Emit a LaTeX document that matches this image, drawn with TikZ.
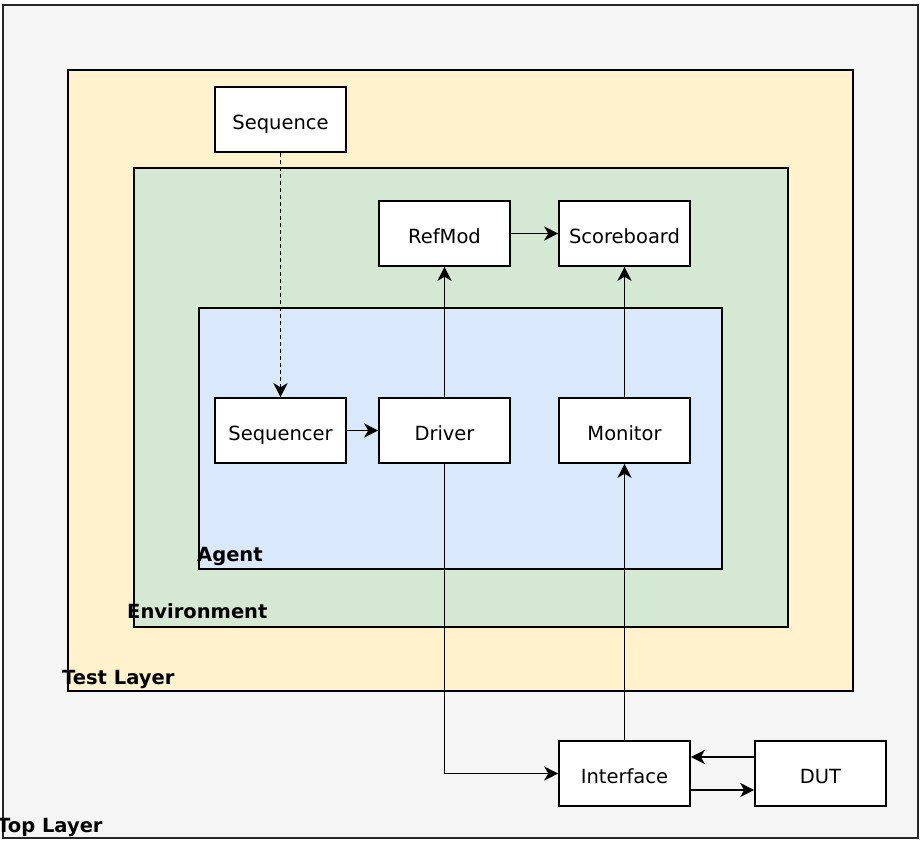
\documentclass[tikz,border=0pt]{standalone}
\usepackage{fontspec}
\setmainfont{DejaVu Sans}
\usetikzlibrary{arrows.meta}
\definecolor{toplayer}{HTML}{F5F5F5}
\definecolor{testlayer}{HTML}{FFF2CC}
\definecolor{envfill}{HTML}{D5E8D4}
\definecolor{agentfill}{HTML}{DAE8FC}
\tikzset{
  box/.style={draw=black, fill=white, line width=1.6pt, minimum width=131pt, minimum height=65pt, inner sep=0pt, text height=19.6pt, text depth=0pt, font=\fontsize{19.5}{23}\selectfont},
  layer/.style={draw=black, line width=1.6pt},
  layerlabel/.style={anchor=base west, inner sep=0pt, font=\fontsize{19.5}{23}\selectfont\bfseries},
  conn/.style={line width=1.7pt, -{Stealth[length=14pt,width=14pt,inset=4pt]}},
}
\begin{document}
\begin{tikzpicture}[x=1pt,y=-1pt]
\useasboundingbox (0,0) rectangle (920,840);
% layers
\draw[layer, fill=toplayer, draw=black!85] (3,5) rectangle (918,838);
\draw[layer, fill=testlayer] (68,70) rectangle (853,691);
\draw[layer, fill=envfill] (134,168) rectangle (788,627);
\draw[layer, fill=agentfill] (199,308) rectangle (722,569);
% layer labels
\node[layerlabel] (lTop) at (-3,832) {Top Layer};
\node[layerlabel] (lTest) at (62,684) {Test Layer};
\node[layerlabel] (lEnv) at (127,618) {Environment};
\node[layerlabel] (lAgent) at (197,561) {Agent};
% boxes
\node[box] (seq) at (280.5,119.5) {Sequence};
\node[box] (ref) at (444.5,233.5) {RefMod};
\node[box] (sb) at (624.5,233.5) {Scoreboard};
\node[box] (sqr) at (280.5,430.5) {Sequencer};
\node[box] (drv) at (444.5,430.5) {Driver};
\node[box] (mon) at (624.5,430.5) {Monitor};
\node[box] (intf) at (624.5,773.5) {Interface};
\node[box] (dut) at (820.5,773.5) {DUT};
% connectors
\draw[conn, dash pattern=on 4pt off 3pt] (seq.south) -- (sqr.north);
\draw[conn] (sqr.east) -- (drv.west);
\draw[conn] (drv.north) -- (ref.south);
\draw[conn] (ref.east) -- (sb.west);
\draw[conn] (mon.north) -- (sb.south);
\draw[conn] (drv.south) |- (intf.west);
\draw[conn] (intf.north) -- (mon.south);
\draw[conn] ([yshift=16.5pt]dut.west) -- ([yshift=16.5pt]intf.east);
\draw[conn] ([yshift=-16.5pt]intf.east) -- ([yshift=-16.5pt]dut.west);
\end{tikzpicture}
\end{document}
